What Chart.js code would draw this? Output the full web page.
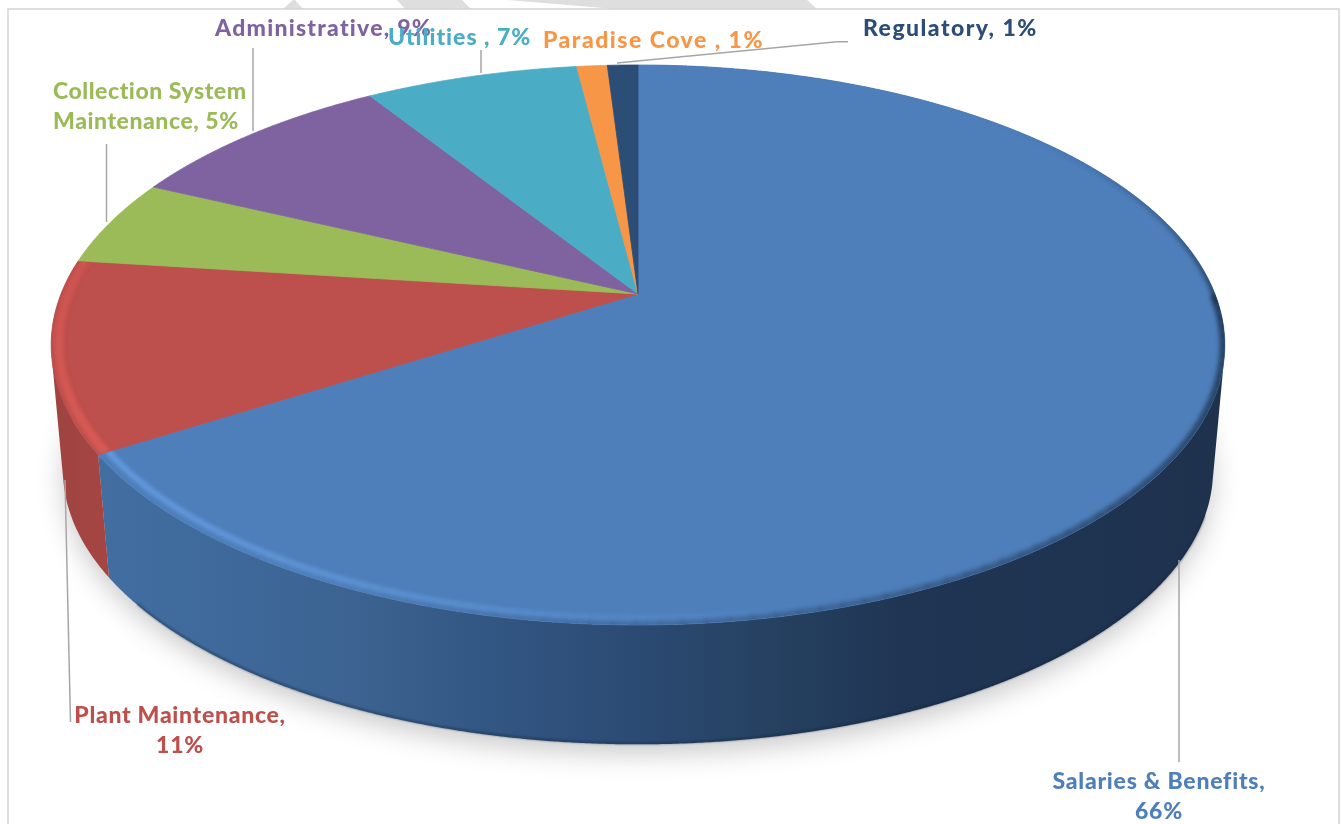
<!DOCTYPE html>
<html>
<head>
<meta charset="utf-8">
<title>Expenses by category</title>
<script src="https://cdn.jsdelivr.net/npm/chart.js@4"></script>
<style>
  html, body { margin: 0; padding: 0; background: #fff; overflow: hidden; }
  canvas { display: block; }
</style>
</head>
<body>
<canvas id="expensePie" width="1341" height="824"></canvas>
<script>
// ── Data ──────────────────────────────────────────────────────────────────
const categories = ['Salaries & Benefits', 'Plant Maintenance', 'Collection System Maintenance', 'Administrative', 'Utilities ', 'Paradise Cove ', 'Regulatory'];
const shares = [66, 11, 5, 9, 7, 1, 1];
const sliceColors = ['#4e7fbb', '#bd4f4c', '#9bbb59', '#7f63a0', '#4bacc6', '#f79646', '#2c4d75'];

// ── Disc projection: unit disc -> tilted ellipse with some perspective ────
const DISC = { cx: 638, cy: 294, a: 577, b: 270.7, p: 0.182 };
const BASE = { scale: 0.98, cy: 345, drop: 125 };

function project(u, v) {
    const w = 1 - DISC.p * v;
    return [DISC.cx + DISC.a * u / w, DISC.cy + DISC.b * v / w];
}
function rimPoint(angle, r = 1) {
    return project(r * Math.cos(angle), r * Math.sin(angle));
}
function basePoint(angle) {
    const [x, y] = rimPoint(angle);
    return [DISC.cx + (x - DISC.cx) * BASE.scale, BASE.cy + BASE.drop + (y - BASE.cy) * BASE.scale];
}

const STEP = Math.PI / 720;

function traceFace(ctx, arc) {
    ctx.beginPath();
    ctx.moveTo(...project(0, 0));
    for (let t = arc.startAngle; t < arc.endAngle; t += STEP) ctx.lineTo(...rimPoint(t));
    ctx.lineTo(...rimPoint(arc.endAngle));
    ctx.closePath();
}

// One quad per step, all wound the same way so overlaps at the silhouette stay filled
function traceSide(ctx, start, end) {
    ctx.beginPath();
    for (let t = start; t < end; t += STEP) {
        const t2 = Math.min(t + STEP * 1.2, end);
        const q = [rimPoint(t), rimPoint(t2), basePoint(t2), basePoint(t)];
        let area = 0;
        q.forEach((p, i) => {
            const n = q[(i + 1) % 4];
            area += p[0] * n[1] - n[0] * p[1];
        });
        if (area < 0) q.reverse();
        q.forEach((p, i) => (i ? ctx.lineTo(p[0], p[1]) : ctx.moveTo(p[0], p[1])));
        ctx.closePath();
    }
}

function sideFill(ctx, index) {
    const g = ctx.createLinearGradient(60, 0, 1230, 0);
    if (index === 0) {
        g.addColorStop(0, '#446fa3');
        g.addColorStop(0.12, '#3f6a9c');
        g.addColorStop(0.25, '#3c6391');
        g.addColorStop(0.4, '#30537f');
        g.addColorStop(0.5, '#2b4a72');
        g.addColorStop(0.62, '#25405f');
        g.addColorStop(0.72, '#1f3553');
        g.addColorStop(1, '#1e324e');
    } else {
        g.addColorStop(0, '#a04441');
        g.addColorStop(0.06, '#a84643');
        g.addColorStop(1, '#a84643');
    }
    return g;
}

// Highlights and dark edges along the rim, blurred and clipped to one slice
function rimGlow(ctx, arc, from, to, color, alphaAt, r, width) {
    ctx.save();
    traceFace(ctx, arc);
    ctx.clip();
    ctx.filter = 'blur(2px)';
    ctx.lineCap = 'butt';
    ctx.lineWidth = width;
    ctx.strokeStyle = color;
    const start = Math.max(from, arc.startAngle);
    const end = Math.min(to, arc.endAngle);
    const n = 60;
    const d = (end - start) / n;
    for (let i = 0; i < n; i++) {
        const t = start + i * d;
        ctx.globalAlpha = alphaAt((t - from) / (to - from));
        ctx.beginPath();
        ctx.moveTo(...rimPoint(t, r));
        for (let j = 1; j <= 6; j++) ctx.lineTo(...rimPoint(t + d * 1.1 * j / 6, r));
        ctx.stroke();
    }
    ctx.restore();
}

const deg = d => (d - 90) * Math.PI / 180; // clockwise from 12 o'clock

// ── 3D pie drawn from the arc elements Chart.js laid out ──────────────────
const tiltedPie = {
    id: 'tiltedPie',
    beforeDatasetDraw(chart) {
        const ctx = chart.ctx;
        const arcs = chart.getDatasetMeta(0).data;

        // soft shadow below the body
        ctx.save();
        ctx.filter = 'blur(13px)';
        ctx.fillStyle = 'rgba(0,0,0,0.2)';
        ctx.beginPath();
        for (let t = 0; t < Math.PI * 2; t += STEP * 2) {
            const [x, y] = basePoint(t);
            ctx.lineTo(x, y + 10);
        }
        ctx.closePath();
        ctx.fill();
        ctx.restore();

        // side walls, only the blue and red ones can be seen
        arcs.slice(0, 2).forEach((arc, i) => {
            ctx.fillStyle = sideFill(ctx, i);
            traceSide(ctx, arc.startAngle, arc.endAngle);
            ctx.fill();
        });

        // darker line along the lower edge of the wall
        ctx.save();
        ctx.filter = 'blur(1px)';
        ctx.strokeStyle = 'rgba(20,35,60,0.5)';
        ctx.lineWidth = 2;
        ctx.beginPath();
        for (let t = deg(110); t < deg(232); t += STEP) {
            const [x, y] = basePoint(t);
            ctx.lineTo(x, y - 1);
        }
        ctx.stroke();
        ctx.restore();

        // top faces, with a hairline stroke to close the seams between slices
        ctx.lineWidth = 0.8;
        ctx.lineJoin = 'round';
        arcs.forEach((arc, i) => {
            ctx.fillStyle = sliceColors[i];
            ctx.strokeStyle = sliceColors[i];
            traceFace(ctx, arc);
            ctx.fill();
            ctx.stroke();
        });

        // bevel on the rim
        rimGlow(ctx, arcs[0], deg(40), deg(92), '#1e324e', f => 0.9 * f * f, 1, 6);
        rimGlow(ctx, arcs[0], deg(90), deg(205), '#1e324e', f => 0.9 * (1 - f), 1, 10);
        rimGlow(ctx, arcs[0], deg(165), deg(238), '#6ba3ea', f => 0.95 * Math.pow(f, 0.7), 0.983, 5);
        rimGlow(ctx, arcs[1], deg(237), deg(278), '#e25f5a', f => 0.95 * (1 - f * 0.5), 0.987, 8);

        return false;
    }
};

// ── Frame, backdrop scraps and labels ─────────────────────────────────────
const backdropScraps = [
    [[283, 9], [293, 0], [295, 0], [303, 9]],
    [[397, 0], [405, 9], [471, 9], [462, 0]],
    [[508, 0], [615, 9], [817, 9], [807, 0]]
];

const frame = {
    id: 'frame',
    beforeDraw(chart) {
        const ctx = chart.ctx;
        ctx.save();
        ctx.fillStyle = '#dedede';
        backdropScraps.forEach(pts => {
            ctx.beginPath();
            pts.forEach(p => ctx.lineTo(p[0], p[1]));
            ctx.closePath();
            ctx.fill();
        });
        ctx.strokeStyle = '#d4d4d4';
        ctx.lineWidth = 1.5;
        ctx.beginPath();
        ctx.moveTo(8, 824);
        ctx.lineTo(8, 9);
        ctx.lineTo(1339, 9);
        ctx.lineTo(1339, 824);
        ctx.stroke();
        ctx.restore();
    }
};

// Placement of each callout, in category order
const callouts = [
    { x: 1159, y: 789, align: 'center', wrap: 21, tracking: 0.75, leader: [[1179, 560], [1179, 762]] },
    { x: 180, y: 723, align: 'center', wrap: 19, tracking: 0.7, leader: [[65, 480], [70.5, 722]] },
    { x: 53, y: 99, align: 'left', wrap: 18, tracking: 0.55, leader: [[106.5, 144], [106.5, 222]] },
    { x: 215, y: 36, align: 'left', tracking: 1.25, leader: [[253, 48], [253, 131]] },
    { x: 388, y: 45, align: 'left', tracking: 1, leader: [[481, 50], [481, 73]] },
    { x: 543, y: 48, align: 'left', tracking: 1.5, leader: null },
    { x: 863, y: 36, align: 'left', tracking: 1.45, leader: [[617, 63], [837, 41.7], [848, 41.7]] }
];

const calloutLabels = {
    id: 'calloutLabels',
    afterDatasetsDraw(chart) {
        const ctx = chart.ctx;
        ctx.save();
        ctx.strokeStyle = '#a6a6a6';
        ctx.lineWidth = 1.5;
        callouts.forEach(c => {
            if (!c.leader) return;
            ctx.beginPath();
            c.leader.forEach(p => ctx.lineTo(p[0], p[1]));
            ctx.stroke();
        });
        ctx.font = '900 23px Lato';
        ctx.textBaseline = 'alphabetic';
        callouts.forEach((c, i) => {
            const text = `${categories[i]}, ${shares[i]}%`;
            const lines = c.wrap ? [text.slice(0, c.wrap - 1).trim(), text.slice(c.wrap - 1).trim()] : [text];
            ctx.letterSpacing = c.tracking + 'px';
            ctx.fillStyle = sliceColors[i];
            ctx.textAlign = c.align;
            lines.forEach((line, k) => ctx.fillText(line, c.x, c.y + k * 30));
        });
        ctx.restore();
    }
};

new Chart(document.getElementById('expensePie').getContext('2d'), {
    type: 'pie',
    data: {
        labels: categories,
        datasets: [{ data: shares, backgroundColor: sliceColors, borderWidth: 0 }]
    },
    options: {
        responsive: false,
        animation: false,
        rotation: 0,
        plugins: { legend: { display: false }, tooltip: { enabled: false } }
    },
    plugins: [frame, tiltedPie, calloutLabels]
});
</script>
</body>
</html>
